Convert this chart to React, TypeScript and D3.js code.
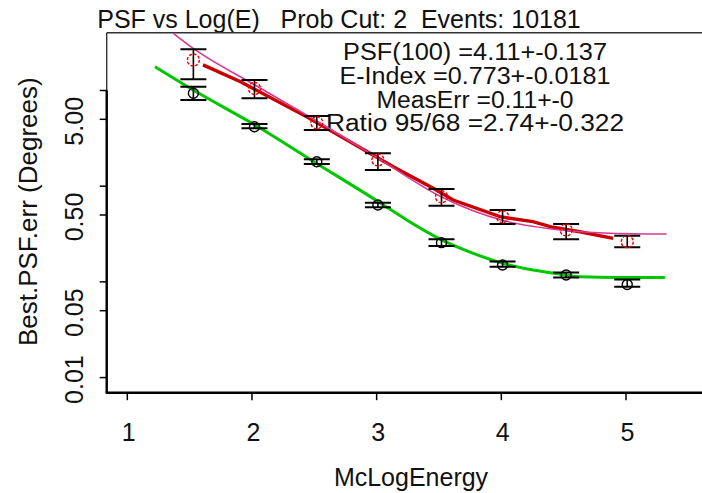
import React from "react";
import * as d3 from "d3";

const xTicks = [1, 2, 3, 4, 5];
const yTicks = [10, 5, 1, 0.5, 0.1, 0.05, 0.01];
const yLabelTicks = [5, 0.5, 0.05, 0.01];

const binX = [1.53, 2.02, 2.52, 3.01, 3.52, 4.01, 4.52, 5.01];
const psf95 = [20.8, 10.5, 4.6, 1.88, 0.776, 0.48, 0.349, 0.263];
const psf95Lo = [13.1, 8.3, 3.87, 1.48, 0.626, 0.403, 0.279, 0.23];
const psf95Hi = [26.9, 12.9, 5.4, 2.21, 0.934, 0.564, 0.403, 0.304];
const psf68 = [9.35, 4.18, 1.8, 0.636, 0.257, 0.15, 0.118, 0.094];
const psf68Lo = [7.95, 4.03, 1.71, 0.602, 0.237, 0.144, 0.111, 0.089];
const psf68Hi = [10.96, 4.47, 1.91, 0.672, 0.279, 0.163, 0.125, 0.106];

const fit68X = [1.222, 1.529, 2.024, 2.519, 3.013, 3.241, 3.521, 3.775, 4.015, 4.256, 4.516, 4.63, 4.951, 5.312];
const fit68Y = [17.7, 10.1, 4.36, 1.73, 0.689, 0.444, 0.275, 0.199, 0.156, 0.133, 0.118, 0.113, 0.111, 0.111];
const fitScaledX = [1.369, 1.529, 2.024, 2.519, 3.013, 3.521, 4.015, 4.516, 4.871, 5.326];
const fitScaledY = [39.6, 27.5, 11.4, 4.8, 1.95, 0.771, 0.438, 0.345, 0.322, 0.316];
const fit95X = [1.607, 1.904, 2.439, 2.946, 3.133, 3.454, 3.614, 3.989, 4.253, 4.414, 4.63, 4.897];
const fit95Y = [18.5, 12.4, 5.32, 2.21, 1.6, 0.95, 0.717, 0.48, 0.426, 0.372, 0.334, 0.285];

const titleText = "PSF vs Log(E)   Prob Cut: 2  Events: 10181";
const fitLines = [
  "PSF(100) =4.11+-0.137",
  "E-Index =0.773+-0.0181",
  "MeasErr =0.11+-0",
  "Ratio 95/68 =2.74+-0.322",
];
const fitLineWidths = [264, 271, 197, 298];

const W = 702;
const H = 493;
const FONT = "'Liberation Sans', Arial, sans-serif";

export default function App() {
  const x = d3.scaleLinear().domain([1, 5]).range([127.3, 626]);
  const y = d3.scaleLog().domain([5, 0.05]).range([119.3, 310.7]);

  const left = 106.7;
  const top = 32.7;
  const bottom = 392.7;
  const right = 720;

  const line = d3
    .line<[number, number]>()
    .x((d) => x(d[0]))
    .y((d) => y(d[1]))
    .curve(d3.curveMonotoneX);
  const lineLin = d3
    .line<[number, number]>()
    .x((d) => x(d[0]))
    .y((d) => y(d[1]));

  const g68 = line(fit68X.map((v, i) => [v, fit68Y[i]] as [number, number])) || "";
  const gScaled = line(fitScaledX.map((v, i) => [v, fitScaledY[i]] as [number, number])) || "";
  const g95 = lineLin(fit95X.map((v, i) => [v, fit95Y[i]] as [number, number])) || "";

  const fmt = d3.format(".2f");
  const cap = 13;

  return (
    <div style={{ position: "absolute", left: 0, top: 0 }}>
      <svg width={W} height={H} style={{ display: "block", background: "#fff" }} fontFamily={FONT}>
        <defs>
          <clipPath id="plotClip">
            <rect x={left} y={top} width={right - left} height={bottom - top} />
          </clipPath>
        </defs>
        <rect x={0} y={0} width={W} height={H} fill="#fff" />

        {/* title */}
        <text x={339} y={28.3} fontSize={25} textAnchor="middle" fill="#111" style={{ whiteSpace: "pre" }}>
          {titleText}
        </text>

        {/* box */}
        <line x1={left} x2={W} y1={top} y2={top} stroke="#333" strokeWidth={1.6} />
        <line x1={left} x2={left} y1={top} y2={bottom} stroke="#333" strokeWidth={1.4} />
        <line x1={left} x2={left} y1={y(10)} y2={bottom} stroke="#000" strokeWidth={2.4} />
        <line x1={left - 1} x2={W} y1={bottom} y2={bottom} stroke="#000" strokeWidth={2.4} />

        {/* y ticks */}
        {yTicks.map((t) => (
          <line key={"yt" + t} x1={left - 7} x2={left} y1={y(t)} y2={y(t)} stroke="#000" strokeWidth={1.5} />
        ))}
        {yLabelTicks.map((t) => (
          <text
            key={"yl" + t}
            transform={`translate(83.3,${y(t) + 2}) rotate(-90)`}
            fontSize={25}
            textAnchor="middle"
            fill="#111"
          >
            {fmt(t)}
          </text>
        ))}

        {/* x ticks */}
        {xTicks.map((t) => (
          <g key={"xt" + t}>
            <line x1={x(t)} x2={x(t)} y1={bottom} y2={bottom + 7.5} stroke="#000" strokeWidth={1.5} />
            <text x={x(t) + 1.5} y={440.7} fontSize={25} textAnchor="middle" fill="#111">
              {t}
            </text>
          </g>
        ))}

        {/* axis titles */}
        <text x={411} y={486} fontSize={25} textAnchor="middle" fill="#111">
          McLogEnergy
        </text>
        <text transform="translate(37.3,211.7) rotate(-90)" fontSize={26} textAnchor="middle" fill="#111">
          Best.PSF.err (Degrees)
        </text>

        {/* fit text */}
        {fitLines.map((s, i) => (
          <text
            key={"ft" + i}
            x={475}
            y={[60, 84, 107.5, 131][i]}
            fontSize={23}
            textAnchor="middle"
            textLength={fitLineWidths[i]}
            lengthAdjust="spacingAndGlyphs"
            fill="#111"
          >
            {s}
          </text>
        ))}

        <g clipPath="url(#plotClip)">
          {/* fit curves */}
          <path d={g68} fill="none" stroke="#00c800" strokeWidth={3} />
          <path d={g95} fill="none" stroke="#c80000" strokeWidth={3.4} />
          <path d={gScaled} fill="none" stroke="#d83a92" strokeWidth={1.6} />

          {/* error bars 68 */}
          {binX.map((bx, i) => (
            <g key={"e68" + i} stroke="#000">
              <line x1={x(bx)} x2={x(bx)} y1={y(psf68Lo[i])} y2={y(psf68Hi[i])} strokeWidth={1.6} />
              <line x1={x(bx) - cap} x2={x(bx) + cap} y1={y(psf68Lo[i])} y2={y(psf68Lo[i])} strokeWidth={2} />
              <line x1={x(bx) - cap} x2={x(bx) + cap} y1={y(psf68Hi[i])} y2={y(psf68Hi[i])} strokeWidth={2} />
              <circle cx={x(bx)} cy={y(psf68[i])} r={5} fill="none" strokeWidth={1.4} />
            </g>
          ))}
          {/* error bars 95 */}
          {binX.map((bx, i) => (
            <g key={"e95" + i}>
              <line x1={x(bx)} x2={x(bx)} y1={y(psf95Lo[i])} y2={y(psf95Hi[i])} stroke="#000" strokeWidth={1.6} />
              <line x1={x(bx) - cap} x2={x(bx) + cap} y1={y(psf95Lo[i])} y2={y(psf95Lo[i])} stroke="#000" strokeWidth={2} />
              <line x1={x(bx) - cap} x2={x(bx) + cap} y1={y(psf95Hi[i])} y2={y(psf95Hi[i])} stroke="#000" strokeWidth={2} />
              <circle
                cx={x(bx)}
                cy={y(psf95[i])}
                r={6}
                fill="none"
                stroke="#ee0000"
                strokeWidth={1.4}
                strokeDasharray="3 1.6"
              />
            </g>
          ))}
        </g>
      </svg>
    </div>
  );
}
